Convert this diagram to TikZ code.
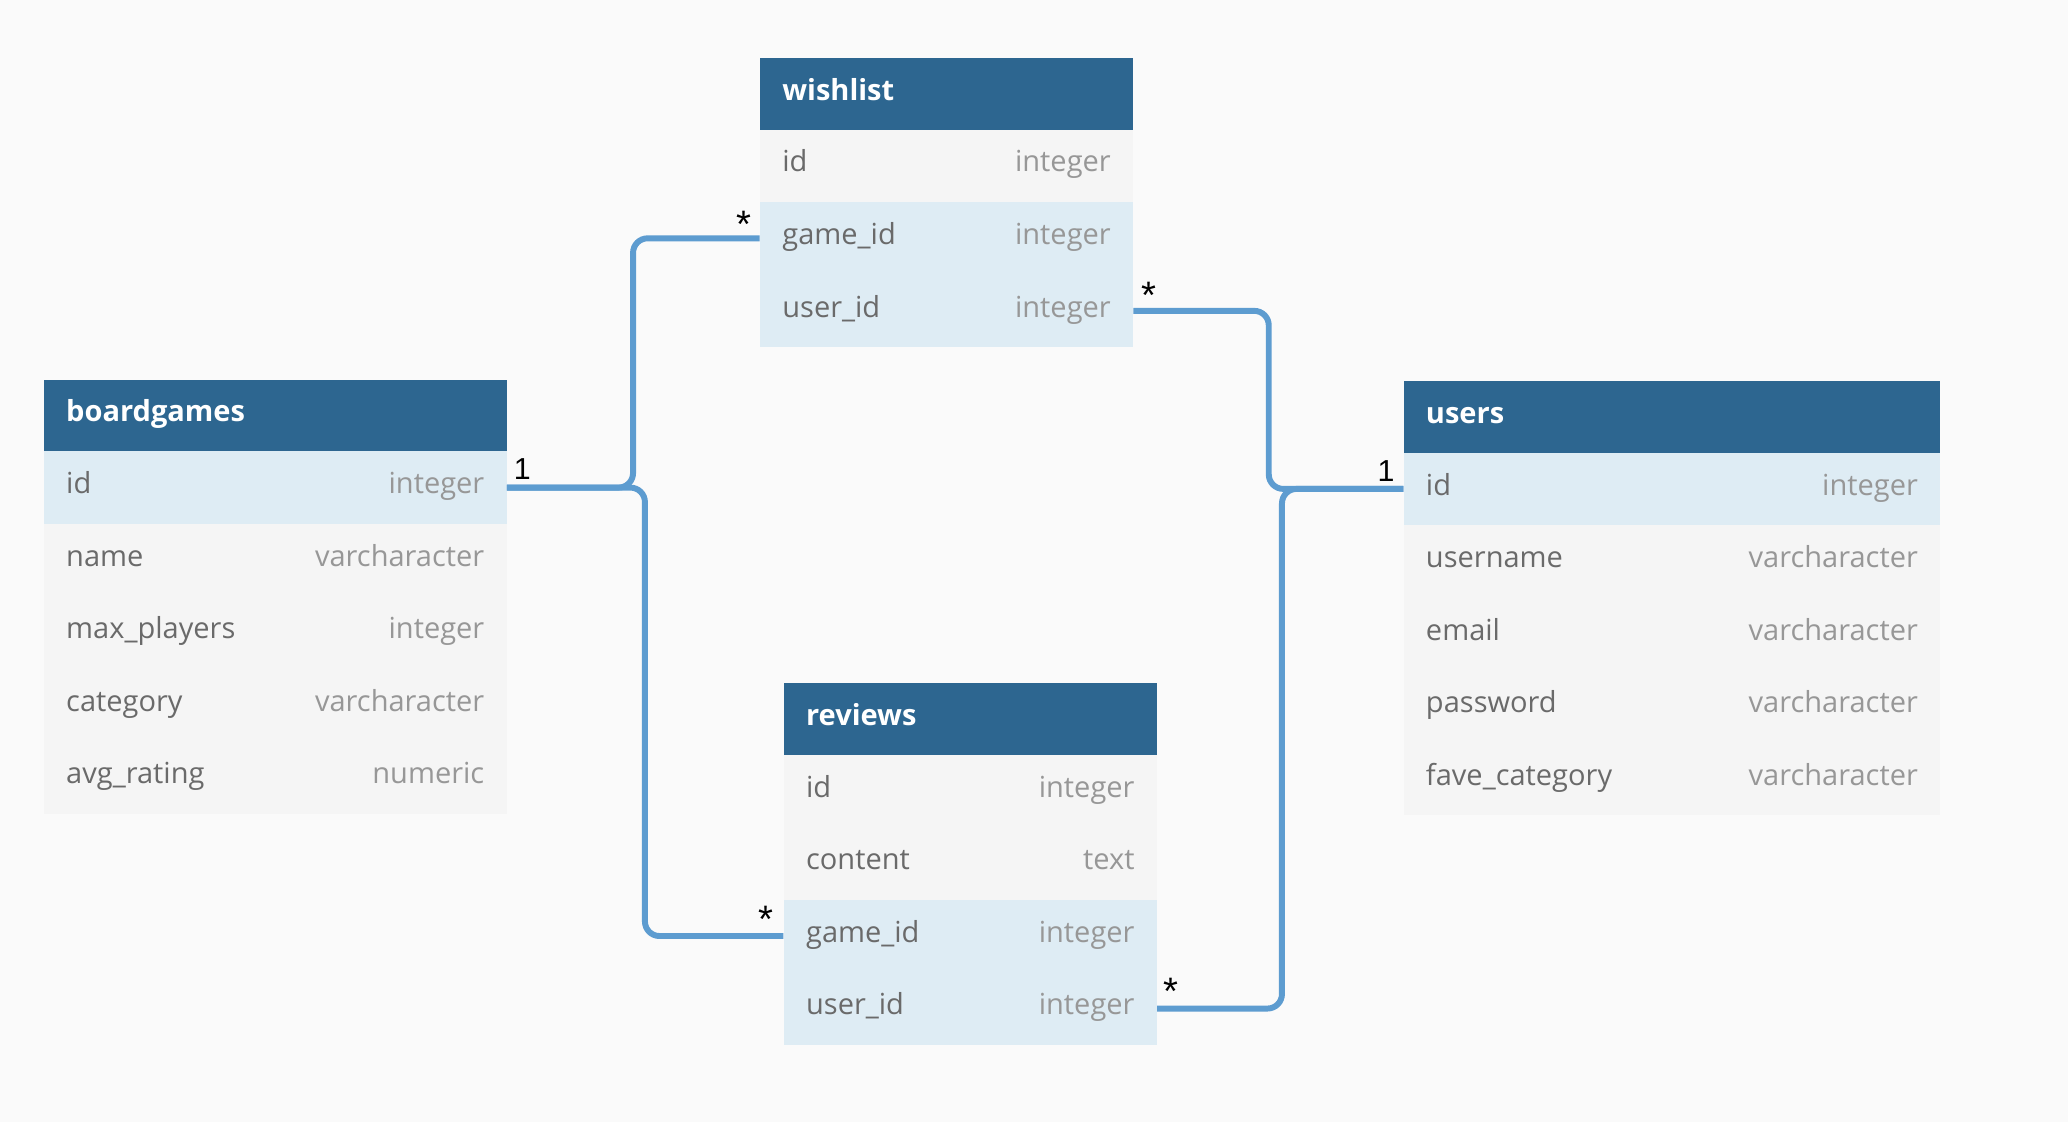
\documentclass[tikz,border=0pt]{standalone}
\usepackage{fontspec}
\setmainfont{Open Sans}
\newfontfamily\cardfont{Liberation Sans}
\definecolor{bgc}{HTML}{FAFAFA}
\definecolor{hdr}{HTML}{2D6690}
\definecolor{rowc}{HTML}{F5F5F5}
\definecolor{keyc}{HTML}{DEECF4}
\definecolor{linec}{HTML}{5D9CD0}
\definecolor{namec}{HTML}{6A6A6A}
\definecolor{typec}{HTML}{979797}
\tikzset{
  hdrbox/.style={fill=hdr, draw=none, minimum height=54pt, anchor=north west, inner sep=0pt},
  rowbox/.style={draw=none, minimum height=55pt, anchor=north west, inner sep=0pt},
  hdrtext/.style={text=white, font=\fontsize{22}{25}\selectfont\bfseries, inner sep=0pt, anchor=mid west},
  fieldtext/.style={text=namec, font=\fontsize{22}{25}\selectfont, inner sep=0pt, anchor=mid west},
  typetext/.style={text=typec, font=\fontsize{22}{25}\selectfont, inner sep=0pt, anchor=mid east},
  conn/.style={draw=linec, line width=4.5pt, rounded corners=11pt},
  card/.style={text=black, font=\cardfont\fontsize{23}{26}\selectfont, inner sep=0pt},
  star/.style={text=black, font=\cardfont\fontsize{29}{30}\selectfont, inner sep=0pt}
}
\newcommand\ehead[5]{%
  \node[hdrbox, minimum width=#4pt] (#1) at (#2pt,-#3pt) {};
  \node[hdrtext] (#1-t) at ([xshift=17pt,yshift=-2pt]#1.west) {#5};
}
\newcommand\erow[7]{%
  \node[rowbox, fill=#7, minimum width=#4pt] (#1) at (#2pt,-#3pt) {};
  \node[fieldtext] (#1-f) at ([xshift=17pt,yshift=-2pt]#1.west) {#5};
  \node[typetext] (#1-y) at ([xshift=-17pt,yshift=-2pt]#1.east) {#6};
}
\begin{document}
\begin{tikzpicture}[x=1pt,y=1pt]
\fill[bgc] (0,0) rectangle (1568,-851);
\useasboundingbox (0,0) rectangle (1568,-851);

% boardgames
\ehead{bg}{33}{288}{351}{boardgames}
\erow{bg-id}{33}{342}{351}{id}{integer}{keyc}
\erow{bg-name}{33}{397}{351}{name}{varcharacter}{rowc}
\erow{bg-max}{33}{452}{351}{max\_players}{integer}{rowc}
\erow{bg-cat}{33}{507}{351}{category}{varcharacter}{rowc}
\erow{bg-avg}{33}{562}{351}{avg\_rating}{numeric}{rowc}

% wishlist
\ehead{wl}{576}{44}{283}{wishlist}
\erow{wl-id}{576}{98}{283}{id}{integer}{rowc}
\erow{wl-game}{576}{153}{283}{game\_id}{integer}{keyc}
\erow{wl-user}{576}{208}{283}{user\_id}{integer}{keyc}

% users
\ehead{us}{1064}{289}{407}{users}
\erow{us-id}{1064}{343}{407}{id}{integer}{keyc}
\erow{us-name}{1064}{398}{407}{username}{varcharacter}{rowc}
\erow{us-mail}{1064}{453}{407}{email}{varcharacter}{rowc}
\erow{us-pw}{1064}{508}{407}{password}{varcharacter}{rowc}
\erow{us-fav}{1064}{563}{407}{fave\_category}{varcharacter}{rowc}

% reviews
\ehead{rv}{594}{518}{283}{reviews}
\erow{rv-id}{594}{572}{283}{id}{integer}{rowc}
\erow{rv-content}{594}{627}{283}{content}{text}{rowc}
\erow{rv-game}{594}{682}{283}{game\_id}{integer}{keyc}
\erow{rv-user}{594}{737}{283}{user\_id}{integer}{keyc}

% junction columns
\coordinate (j1) at (480,0);
\coordinate (j2) at (489,0);
\coordinate (j3) at (962,0);
\coordinate (j4) at (972,0);

\draw[conn] (bg-id.east) -| (j1 |- wl-game.west) -- (wl-game.west);
\draw[conn] (bg-id.east) -| (j2 |- rv-game.west) -- (rv-game.west);
\draw[conn] (wl-user.east) -| (j3 |- us-id.west) -- (us-id.west);
\draw[conn] (rv-user.east) -| (j4 |- us-id.west) -- (us-id.west);

% cardinalities
\node[card] (c1) at (396,-356) {1};
\node[star] (c2) at (564,-170) {*};
\node[star] (c3) at (871,-224) {*};
\node[card] (c4) at (1051,-357) {1};
\node[star] (c5) at (581,-697) {*};
\node[star] (c6) at (888,-752) {*};
\end{tikzpicture}
\end{document}
